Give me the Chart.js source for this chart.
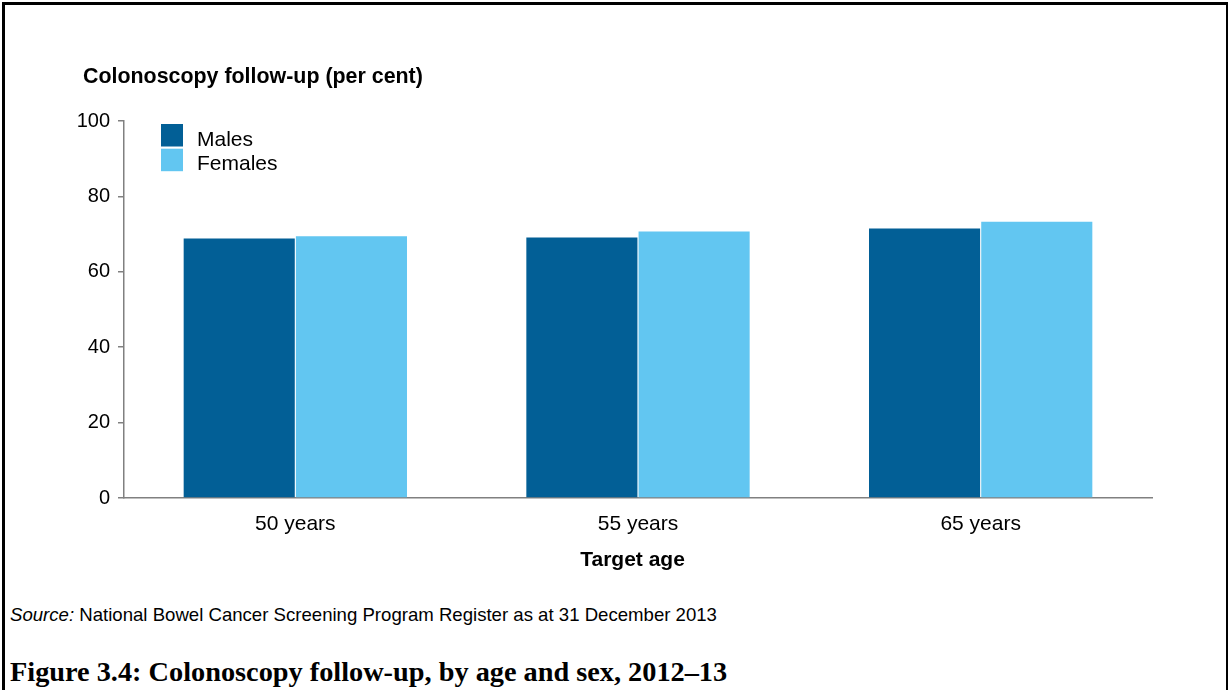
<!DOCTYPE html>
<html>
<head>
<meta charset="utf-8">
<script src="https://cdn.jsdelivr.net/npm/chart.js@4"></script>
<style>
  html, body { margin: 0; padding: 0; background: #fff; width: 1228px; height: 690px; overflow: hidden; }
  #frame { position: absolute; left: 2px; top: 2px; width: 1221px; height: 700px; border: 3px solid #000; border-bottom: none; }
  #wrap { position: absolute; left: 0; top: 0; width: 1228px; height: 590px; }
  #source { position: absolute; left: 10px; top: 605.6px; font-family: "Liberation Sans", Arial, sans-serif; font-size: 18.6px; line-height: 1; color: #000; white-space: nowrap; }
  #caption { position: absolute; left: 10px; top: 658.3px; font-family: "Liberation Serif", "Times New Roman", serif; font-weight: bold; font-size: 28.3px; line-height: 1; color: #000; white-space: nowrap; }
</style>
</head>
<body>
<div id="frame"></div>
<div id="wrap"><canvas id="c" width="1228" height="590"></canvas></div>
<div id="source"><i>Source:</i> National Bowel Cancer Screening Program Register as at 31 December 2013</div>
<div id="caption">Figure 3.4: Colonoscopy follow-up, by age and sex, 2012–13</div>
<script>
const categories = ['50 years', '55 years', '65 years'];
const males = [68.8, 69.1, 71.5];
const females = [69.4, 70.7, 73.3];
const seriesNames = ['Males', 'Females'];
const yTicks = [0, 20, 40, 60, 80, 100];
const yTitle = 'Colonoscopy follow-up (per cent)';
const xTitle = 'Target age';

const FONT = '"Liberation Sans", Arial, sans-serif';
const MALE_COLOR = '#025F96';
const FEMALE_COLOR = '#62C6F1';

const extras = {
  id: 'extras',
  afterDraw(chart) {
    const ctx = chart.ctx;
    ctx.save();
    ctx.fillStyle = '#000';
    ctx.textBaseline = 'alphabetic';
    // y axis title
    ctx.font = 'bold 21.4px ' + FONT;
    ctx.textAlign = 'left';
    ctx.fillText(yTitle, 83, 83.3);
    // x axis title
    ctx.font = 'bold 21px ' + FONT;
    ctx.textAlign = 'center';
    ctx.fillText(xTitle, 632.5, 566);
    // legend
    const colors = chart.data.datasets.map(d => d.backgroundColor);
    const labels = chart.data.datasets.map(d => d.label);
    ctx.font = '21px ' + FONT;
    ctx.textAlign = 'left';
    labels.forEach((lab, i) => {
      const y0 = 124 + i * 24.7;
      ctx.fillStyle = colors[i];
      ctx.fillRect(161, y0, 22, 22.5);
      ctx.fillStyle = '#000';
      ctx.fillText(lab, 197, y0 + 21.5);
    });
    ctx.restore();
  }
};

new Chart(document.getElementById('c'), {
  type: 'bar',
  data: {
    labels: categories,
    datasets: [
      { label: seriesNames[0], data: males, backgroundColor: MALE_COLOR, borderWidth: 0, barPercentage: 0.99, categoryPercentage: 0.655 },
      { label: seriesNames[1], data: females, backgroundColor: FEMALE_COLOR, borderWidth: 0, barPercentage: 0.99, categoryPercentage: 0.655 }
    ]
  },
  options: {
    responsive: false,
    animation: false,
    layout: { padding: { left: 0, top: 121, right: 76, bottom: 0 } },
    plugins: { legend: { display: false }, title: { display: false }, tooltip: { enabled: false } },
    scales: {
      x: {
        grid: { display: false },
        border: { display: true, color: '#808080', width: 1.5 },
        ticks: { font: { family: FONT, size: 21 }, color: '#000', padding: 6 },
        afterFit(scale) { scale.height = 92; }
      },
      y: {
        min: 0, max: 100,
        afterBuildTicks(scale) { scale.ticks = yTicks.map(v => ({ value: v })); },
        grid: { drawOnChartArea: false, drawTicks: true, tickLength: 6, color: '#808080', lineWidth: 1.5 },
        border: { display: true, color: '#808080', width: 1.5 },
        ticks: { font: { family: FONT, size: 20 }, color: '#000', padding: 8 },
        afterFit(scale) { scale.width = 124; }
      }
    }
  },
  plugins: [extras]
});
</script>
</body>
</html>
